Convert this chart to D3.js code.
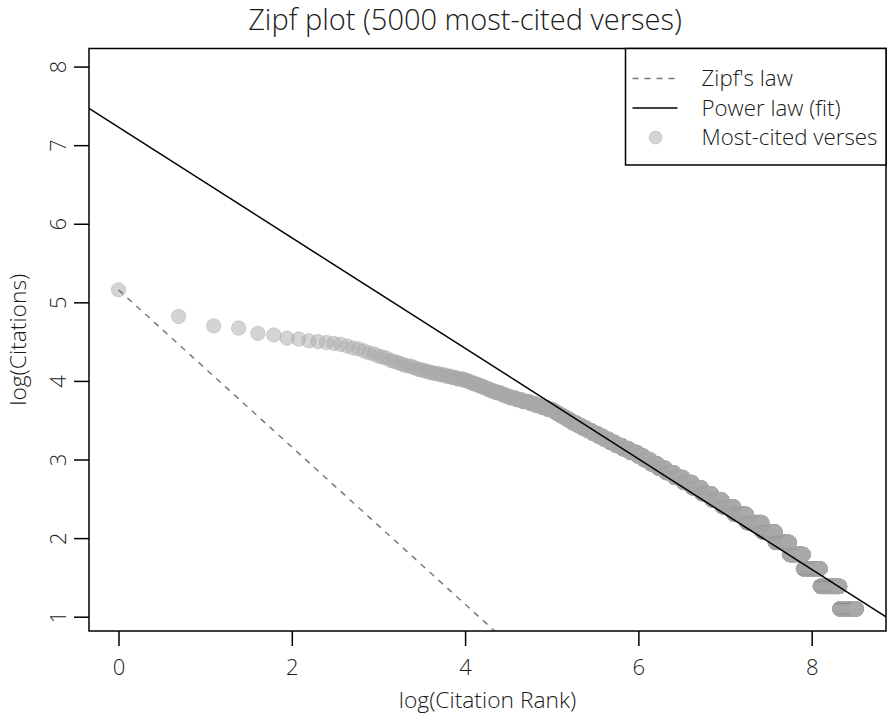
<!DOCTYPE html>
<html>
<head>
<meta charset="utf-8">
<script src="https://cdn.jsdelivr.net/npm/d3@7"></script>
<style>
  body { margin: 0; background: #fff; }
  svg text { font-family: "Open Sans", "Noto Sans", sans-serif; font-weight: 300; fill: #1a1a1a; }
</style>
</head>
<body>
<svg id="chart" width="888" height="716"></svg>
<script>
// citation count of each run, and the last rank that has that count (ranks are 1..5000)
const citationCounts = [174, 124, 110, 107, 100, 98, 94, 93, 91, 90,
  89, 88, 87, 85, 83, 82, 80, 78, 77, 75,
  74, 73, 71, 70, 69, 68, 67, 66, 65, 64,
  63, 62, 61, 60, 59, 58, 57, 56, 55, 54,
  53, 52, 51, 50, 49, 48, 47, 46, 45, 44,
  43, 42, 41, 40, 39, 38, 37, 36, 35, 34,
  33, 32, 31, 30, 29, 28, 27, 26, 25, 24,
  23, 22, 21, 20, 19, 18, 17, 16, 15, 14,
  13, 12, 11, 10, 9, 8, 7, 6, 5, 4, 3];
const lastRanks = [1, 2, 3, 4, 5, 6, 7, 8, 9, 10,
  11, 12, 13, 14, 15, 16, 17, 18, 19, 20,
  21, 22, 23, 24, 25, 26, 27, 29, 30, 31,
  33, 35, 37, 40, 43, 46, 49, 53, 56, 58,
  61, 64, 67, 70, 73, 77, 82, 86, 91, 98,
  105, 114, 122, 131, 140, 150, 156, 163, 171, 179,
  187, 198, 209, 222, 236, 252, 269, 288, 309, 335,
  364, 398, 429, 464, 504, 552, 609, 675, 750, 837,
  939, 1061, 1213, 1405, 1680, 1956, 2306, 2710, 3290, 4120, 5000];

// fitted power law in log-log space
const fitIntercept = 7.228;
const fitSlope = -0.7033;
// zipf reference: slope -1 through the top verse
const zipfIntercept = Math.log(174);
const zipfSlope = -1;

const xTicks = [0, 2, 4, 6, 8];
const yTicks = [1, 2, 3, 4, 5, 6, 7, 8];
const legendLabels = ["Zipf's law", "Power law (fit)", "Most-cited verses"];

const margin = {left: 89, right: 2, top: 48.5, bottom: 85};
const width = 888, height = 716;

// expand runs -> one point per rank
let points = [], prev = 0;
citationCounts.forEach((c, i) => {
  for (let r = prev + 1; r <= lastRanks[i]; r++) {
    points.push({lr: Math.log(r), lc: Math.log(c)});
  }
  prev = lastRanks[i];
});

const svg = d3.select('#chart');

const x = d3.scaleLinear()
  .domain([-0.3407, 8.8579])
  .range([margin.left, width - margin.right]);
const y = d3.scaleLinear()
  .domain([0.818, 8.23])
  .range([height - margin.bottom, margin.top]);

svg.append('defs').append('clipPath')
  .attr('id', 'plotClip')
  .append('rect')
  .attr('x', x.range()[0]).attr('y', y.range()[1])
  .attr('width', x.range()[1] - x.range()[0])
  .attr('height', y.range()[0] - y.range()[1]);

const plot = svg.append('g').attr('clip-path', 'url(#plotClip)');

// points
plot.append('g')
  .selectAll('circle')
  .data(points)
  .enter()
  .append('circle')
  .attr('cx', d => x(d.lr))
  .attr('cy', d => y(d.lc))
  .attr('r', 7.2)
  .attr('fill', '#a9a9a9')
  .attr('fill-opacity', 0.5)
  .attr('stroke', '#a9a9a9')
  .attr('stroke-opacity', 0.45)
  .attr('stroke-width', 1);

let lineFor = (a, b) => {
  const xs = x.domain();
  return [[xs[0], a + b * xs[0]], [xs[1], a + b * xs[1]]];
};
const line = d3.line().x(d => x(d[0])).y(d => y(d[1]));

plot.append('path')
  .attr('d', line(lineFor(zipfIntercept, zipfSlope).map(d => d[0] < 0 ? [0, zipfIntercept] : d)))
  .attr('fill', 'none')
  .attr('stroke', '#7a7a7a')
  .attr('stroke-width', 1.5)
  .attr('stroke-dasharray', '6,6');

plot.append('path')
  .attr('d', line(lineFor(fitIntercept, fitSlope)))
  .attr('fill', 'none')
  .attr('stroke', '#000')
  .attr('stroke-width', 1.5);

// box
svg.append('rect')
  .attr('x', x.range()[0]).attr('y', y.range()[1])
  .attr('width', x.range()[1] - x.range()[0])
  .attr('height', y.range()[0] - y.range()[1])
  .attr('fill', 'none')
  .attr('stroke', '#000')
  .attr('stroke-width', 1.5);

// axes, R style: ticks outside, labels a bit away
const xAxis = svg.append('g')
  .attr('transform', `translate(0,${height - margin.bottom})`)
  .call(d3.axisBottom(x).tickValues(xTicks).tickSize(15).tickPadding(13));
const yAxis = svg.append('g')
  .attr('transform', `translate(${margin.left},0)`)
  .call(d3.axisLeft(y).tickValues(yTicks).tickSize(15));

[xAxis, yAxis].forEach(a => {
  a.select('.domain').remove();
  a.selectAll('.tick line').attr('stroke', '#000').attr('stroke-width', 1.5);
  a.selectAll('.tick text').style('font-size', '22px').attr('fill', '#1a1a1a');
});
xAxis.selectAll('.tick text').attr('dy', '0.71em');
yAxis.selectAll('.tick text')
  .attr('x', null).attr('dy', null)
  .attr('text-anchor', 'middle')
  .attr('transform', 'translate(-31,0) rotate(-90) translate(0,8)');

// titles
svg.append('text')
  .attr('x', 465).attr('y', 30)
  .attr('text-anchor', 'middle')
  .style('font-size', '29px')
  .text('Zipf plot (5000 most-cited verses)');
svg.append('text')
  .attr('x', (x.range()[0] + x.range()[1]) / 2).attr('y', 708)
  .attr('text-anchor', 'middle')
  .style('font-size', '22.8px')
  .text('log(Citation Rank)');
svg.append('text')
  .attr('transform', `translate(26,${(y.range()[0] + y.range()[1]) / 2}) rotate(-90)`)
  .attr('text-anchor', 'middle')
  .style('font-size', '22.8px')
  .text('log(Citations)');

// legend (topright)
const lg = svg.append('g').attr('transform', `translate(625.5,${y.range()[1]})`);
lg.append('rect')
  .attr('width', x.range()[1] - 625.5).attr('height', 116.5)
  .attr('fill', '#fff').attr('stroke', '#000').attr('stroke-width', 1.5);
const rows = lg.selectAll('g.row')
  .data(legendLabels)
  .enter()
  .append('g')
  .attr('transform', (d, i) => `translate(0,${30 + i * 29.5})`);
rows.append('text')
  .attr('x', 76).attr('dy', '0.35em')
  .style('font-size', '22.3px')
  .text(d => d);
rows.filter((d, i) => i < 2).append('line')
  .attr('x1', 7).attr('x2', 52)
  .attr('stroke', (d, i) => i === 0 ? '#7a7a7a' : '#000')
  .attr('stroke-width', 1.5)
  .attr('stroke-dasharray', (d, i) => i === 0 ? '6,6' : null);
rows.filter((d, i) => i === 2).append('circle')
  .attr('cx', 30).attr('r', 6.5)
  .attr('fill', '#a9a9a9').attr('fill-opacity', 0.5)
  .attr('stroke', '#a9a9a9').attr('stroke-opacity', 0.45);
</script>
</body>
</html>
